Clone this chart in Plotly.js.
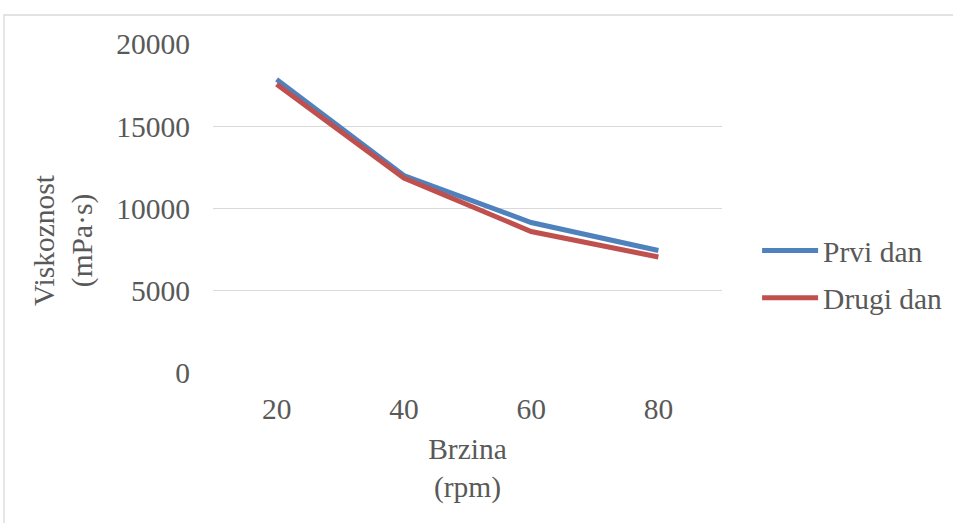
<!DOCTYPE html>
<html>
<head>
<meta charset="utf-8">
<script src="https://cdn.plot.ly/plotly-3.0.1.min.js"></script>
<style>html,body{margin:0;padding:0;background:#fff}#chart{width:953px;height:523px}</style>
</head>
<body>
<div id="chart"></div>
<script>
const categories = ["20", "40", "60", "80"];
const prviDan = [17850, 12000, 9150, 7450];
const drugiDan = [17550, 11850, 8600, 7050];
const yTicks = [0, 5000, 10000, 15000, 20000];
const seriesNames = ["Prvi dan", "Drugi dan"];

const FONT = "'Liberation Serif', 'Times New Roman', serif";
const FS = 29.5;
const GREY = "#595959";

const traces = [
  {x: categories, y: prviDan, name: seriesNames[0], type: "scatter", mode: "lines",
   line: {color: "#4f81bd", width: 5}, legendgroup: "a"},
  {x: categories, y: drugiDan, name: seriesNames[1], type: "scatter", mode: "lines",
   line: {color: "#c0504d", width: 5}, legendgroup: "b"}
];

const layout = {
  width: 953, height: 523,
  margin: {l: 213, r: 231, t: 44, b: 150, autoexpand: false},
  paper_bgcolor: "#fff", plot_bgcolor: "#fff",
  font: {family: FONT, size: FS, color: GREY},
  showlegend: true,
  legend: {x: 1.12, xanchor: "left", y: 0.30, yanchor: "middle",
           font: {family: FONT, size: FS, color: GREY}, tracegroupgap: 6,
           traceorder: "grouped", bgcolor: "rgba(0,0,0,0)"},
  xaxis: {type: "category", range: [-0.5, 3.5], showgrid: false, zeroline: false,
          showline: false, ticks: "", ticklabelstandoff: 15, automargin: false,
          tickfont: {family: FONT, size: FS, color: GREY},
          title: {text: "Brzina<br>(rpm)", font: {family: FONT, size: FS, color: GREY}, standoff: 14}},
  yaxis: {range: [0, 20000], tickvals: yTicks, ticktext: yTicks.map(String),
          showgrid: true, gridcolor: "#d9d9d9", gridwidth: 1.3, zeroline: false,
          showline: false, ticks: "", ticklabelstandoff: 22, automargin: false,
          tickfont: {family: FONT, size: FS, color: GREY}},
  annotations: [{text: "Viskoznost<br>(mPa·s)", xref: "paper", yref: "paper",
                 x: -0.295, y: 0.404, xanchor: "center", yanchor: "middle", textangle: -90,
                 showarrow: false, font: {family: FONT, size: FS, color: GREY}}],
  shapes: [{type: "rect", xref: "paper", yref: "paper", layer: "below",
            x0: -0.4106, x1: 1.5, y0: -0.5, y1: 1.0881,
            line: {color: "#d9d9d9", width: 1.3}, fillcolor: "rgba(0,0,0,0)"}]
};

function stretchLegendLines() {
  document.querySelectorAll("#chart .legend [clip-path]").forEach(function (el) {
    el.removeAttribute("clip-path");
  });
  document.querySelectorAll("#chart .legend path.js-line").forEach(function (p) {
    if (p.getAttribute("d") !== "M-21,0h56") p.setAttribute("d", "M-21,0h56");
  });
}

const gd = document.getElementById("chart");
Plotly.newPlot(gd, traces, layout, {displayModeBar: false, staticPlot: true}).then(function () {
  stretchLegendLines();
  gd.on("plotly_afterplot", stretchLegendLines);
  setTimeout(stretchLegendLines, 100);
  setTimeout(stretchLegendLines, 500);
});
</script>
</body>
</html>
